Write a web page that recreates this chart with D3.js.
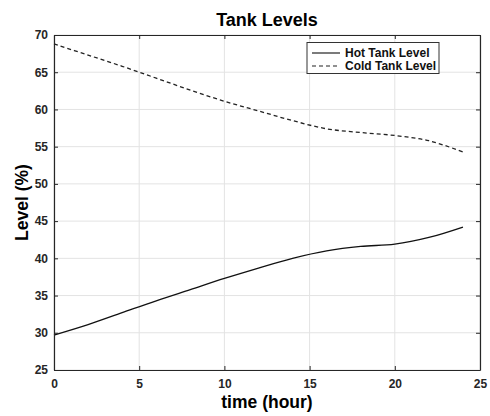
<!DOCTYPE html>
<html><head><meta charset="utf-8">
<script src="https://cdn.jsdelivr.net/npm/d3@7"></script>
<style>
body{margin:0;background:#fff;}
text{font-family:"Liberation Sans",Arial,sans-serif;}
</style></head>
<body><svg id="c" width="490" height="416"></svg>
<script>
const time = [0,2,4,6,8,10,12,14,16,18,20,22,24];
const hotLevel = [29.7,31.1,32.7,34.3,35.8,37.3,38.7,40.0,41.0,41.6,41.9,42.8,44.2];
const coldLevel = [68.8,67.3,65.8,64.2,62.6,61.1,59.8,58.5,57.4,56.9,56.5,55.8,54.3];
const xTicks = [0,5,10,15,20,25];
const yTicks = [25,30,35,40,45,50,55,60,65,70];
const seriesNames = ["Hot Tank Level","Cold Tank Level"];

const svg = d3.select("#c");
const L=54, R=480, T=35, B=370;
const x = d3.scaleLinear().domain([0,25]).range([L,R]);
const y = d3.scaleLinear().domain([25,70]).range([B,T]);
const axisCol="#262626";

// grid
svg.append("g").selectAll("line").data(xTicks).join("line")
  .attr("x1",d=>x(d)).attr("x2",d=>x(d)).attr("y1",T).attr("y2",B)
  .attr("stroke","#e3e3e3").attr("stroke-width",1);
svg.append("g").selectAll("line").data(yTicks).join("line")
  .attr("y1",d=>y(d)).attr("y2",d=>y(d)).attr("x1",L).attr("x2",R)
  .attr("stroke","#e3e3e3").attr("stroke-width",1);

// lines
const mk = arr => d3.line().x((d,i)=>x(time[i])).y(d=>y(d)).curve(d3.curveCatmullRom)(arr);
svg.append("path").attr("d",mk(hotLevel)).attr("fill","none").attr("stroke","#111").attr("stroke-width",1.3);
svg.append("path").attr("d",mk(coldLevel)).attr("fill","none").attr("stroke","#222").attr("stroke-width",1.3).attr("stroke-dasharray","4,3");

// axes
const fmt = d3.format("d");
const gx = svg.append("g").attr("transform",`translate(0,${B})`).call(d3.axisBottom(x).tickValues(xTicks).tickFormat(fmt).tickSizeInner(-4).tickSizeOuter(0).tickPadding(9));
const gxt = svg.append("g").attr("transform",`translate(0,${T})`).call(d3.axisTop(x).tickValues(xTicks).tickFormat("").tickSizeInner(-4).tickSizeOuter(0));
const gy = svg.append("g").attr("transform",`translate(${L},0)`).call(d3.axisLeft(y).tickValues(yTicks).tickFormat(fmt).tickSizeInner(-4).tickSizeOuter(0).tickPadding(6));
const gyr = svg.append("g").attr("transform",`translate(${R},0)`).call(d3.axisRight(y).tickValues(yTicks).tickFormat("").tickSizeInner(-4).tickSizeOuter(0));
[gx,gxt,gy,gyr].forEach(g=>{
  g.select(".domain").attr("stroke",axisCol).attr("stroke-width",1.2);
  g.selectAll(".tick line").attr("stroke",axisCol);
  g.selectAll("text").attr("fill",axisCol).attr("font-size",12).attr("font-weight","bold");
});

// titles
svg.append("text").attr("x",(L+R)/2).attr("y",26).attr("text-anchor","middle")
  .attr("font-size",18).attr("font-weight","bold").attr("fill","#000").text("Tank Levels");
svg.append("text").attr("x",(L+R)/2).attr("y",408).attr("text-anchor","middle")
  .attr("font-size",17.5).attr("font-weight","bold").attr("fill","#000").text("time (hour)");
svg.append("text").attr("transform",`translate(28,${(T+B)/2}) rotate(-90)`).attr("text-anchor","middle")
  .attr("font-size",17.5).attr("font-weight","bold").attr("fill","#000").text("Level (%)");

// legend
const lg = svg.append("g");
lg.append("rect").attr("x",307).attr("y",42.5).attr("width",132).attr("height",31)
  .attr("fill","#fff").attr("stroke","#333").attr("stroke-width",1);
const rowsY=[53,66];
seriesNames.forEach((n,i)=>{
  lg.append("line").attr("x1",312).attr("x2",340).attr("y1",rowsY[i]).attr("y2",rowsY[i])
    .attr("stroke","#222").attr("stroke-width",1.2).attr("stroke-dasharray",i?"4,3":null);
  lg.append("text").attr("x",345).attr("y",rowsY[i]+4).attr("font-size",12).attr("font-weight","bold")
    .attr("fill","#111").text(n);
});
</script></body></html>
